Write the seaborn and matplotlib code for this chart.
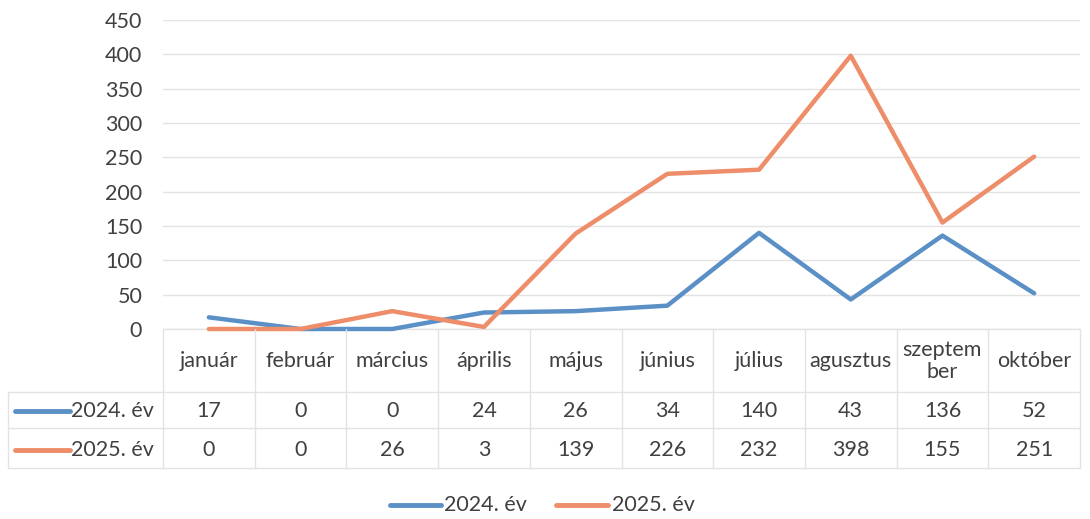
import matplotlib
matplotlib.use("Agg")
import matplotlib.pyplot as plt
import seaborn as sns
import pandas as pd

months = ["január", "február", "március", "április", "május", "június",
          "július", "agusztus", "szeptem\nber", "október"]
series_names = ["2024. év", "2025. év"]
values_2024 = [17, 0, 0, 24, 26, 34, 140, 43, 136, 52]
values_2025 = [0, 0, 26, 3, 139, 226, 232, 398, 155, 251]
y_ticks = [0, 50, 100, 150, 200, 250, 300, 350, 400, 450]

colors = {"2024. év": "#5A90C6", "2025. év": "#EE8D69"}
grid_col = "#E3E3E3"
text_col = "#404040"
fs = 15.5

sns.set_theme(style="white")
plt.rcParams["font.family"] = ["Lato", "DejaVu Sans"]

df = pd.DataFrame({
    "pos": list(range(len(months))) * 2,
    "value": values_2024 + values_2025,
    "series": [series_names[0]] * len(months) + [series_names[1]] * len(months),
})

W, H = 1090, 519
fig = plt.figure(figsize=(W / 100, H / 100), dpi=100)
left, right, top, bottom = 163, 1080, 20, 329
ax = fig.add_axes([left / W, 1 - bottom / H, (right - left) / W, (bottom - top) / H])

sns.lineplot(data=df, x="pos", y="value", hue="series", palette=colors,
             linewidth=3.2, ax=ax, legend=False, clip_on=False, zorder=3)

ax.set_xlim(-0.5, len(months) - 0.5)
ax.set_ylim(0, 450)
ax.set_yticks(y_ticks)
ax.set_yticklabels([str(t) for t in y_ticks], fontsize=fs, color=text_col)
ax.tick_params(axis="y", length=0, pad=15)
ax.set_xticks([])
ax.set_xlabel("")
ax.set_ylabel("")
ax.grid(axis="y", color=grid_col, linewidth=1)
for s in ["top", "right", "left"]:
    ax.spines[s].set_visible(False)
ax.spines["bottom"].set_color(grid_col)
ax.spines["bottom"].set_linewidth(1)

# Data table below the plot (pixel coordinates in the figure)
def fx(px):
    return px / W

def fy(py):
    return 1 - py / H

col_w = (right - left) / len(months)
row_lines = [392, 428, 468]
line_kw = dict(color=grid_col, linewidth=1, transform=fig.transFigure)

for i in range(len(months) + 1):
    xb = left + i * col_w
    fig.add_artist(plt.Line2D([fx(xb), fx(xb)], [fy(bottom), fy(468)], **line_kw))
fig.add_artist(plt.Line2D([fx(8), fx(8)], [fy(392), fy(468)], **line_kw))
for ry in row_lines:
    fig.add_artist(plt.Line2D([fx(8), fx(right)], [fy(ry), fy(ry)], **line_kw))

for i, m in enumerate(months):
    cx = left + (i + 0.5) * col_w
    fig.text(fx(cx), fy(361), m, ha="center", va="center", fontsize=fs,
             color=text_col, linespacing=1.1)
    fig.text(fx(cx), fy(411), str(values_2024[i]), ha="center", va="center",
             fontsize=fs, color=text_col)
    fig.text(fx(cx), fy(450), str(values_2025[i]), ha="center", va="center",
             fontsize=fs, color=text_col)

for name, ry in zip(series_names, [411, 450]):
    fig.add_artist(plt.Line2D([fx(15), fx(70)], [fy(ry), fy(ry)],
                              color=colors[name], linewidth=3.5,
                              solid_capstyle="round", transform=fig.transFigure))
    fig.text(fx(71), fy(ry), name, ha="left", va="center", fontsize=fs, color=text_col)

# Legend at the bottom
legend_items = [(390, 441, 444, series_names[0]), (556, 608, 612, series_names[1])]
for x0, x1, tx, name in legend_items:
    fig.add_artist(plt.Line2D([fx(x0), fx(x1)], [fy(505), fy(505)],
                              color=colors[name], linewidth=3.5,
                              solid_capstyle="round", transform=fig.transFigure))
    fig.text(fx(tx), fy(505), name, ha="left", va="center", fontsize=fs, color=text_col)

fig.savefig("out.png", dpi=100, facecolor="white")
